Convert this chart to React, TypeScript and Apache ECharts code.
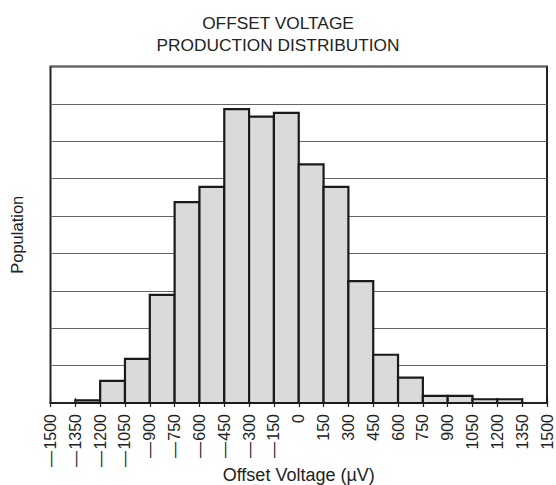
import React, { useEffect, useRef } from "react";
import * as echarts from "echarts";

const binStarts = [-1350, -1200, -1050, -900, -750, -600, -450, -300, -150, 0, 150, 300, 450, 600, 750, 900, 1050, 1200];
const binWidth = 150;
const populations = [0.07, 0.59, 1.18, 2.89, 5.37, 5.78, 7.86, 7.66, 7.76, 6.38, 5.78, 3.26, 1.29, 0.68, 0.19, 0.19, 0.1, 0.1];
const xTicks = [-1500, -1350, -1200, -1050, -900, -750, -600, -450, -300, -150, 0, 150, 300, 450, 600, 750, 900, 1050, 1200, 1350, 1500];
const titleLines = ["OFFSET VOLTAGE", "PRODUCTION DISTRIBUTION"];

const FONT = "'Liberation Sans', Arial, Helvetica, sans-serif";

function fmt(v: number): string {
  if (v < 0) return "\u2014\u200A" + Math.abs(v);
  return String(v);
}

export default function App() {
  const ref = useRef<HTMLDivElement>(null);
  useEffect(() => {
    if (!ref.current) return;
    const chart = echarts.init(ref.current, null, { renderer: "svg" });
    const data = binStarts.map((s, i) => [s, s + binWidth, populations[i]]);
    chart.setOption({
      animation: false,
      backgroundColor: "#ffffff",
      title: {
        text: titleLines.join("\n"),
        left: "center",
        top: 7,
        textStyle: { fontFamily: FONT, fontSize: 17.3, fontWeight: "normal", color: "#222", lineHeight: 22 },
      },
      grid: {
        left: 50.5,
        right: 9,
        top: 66.5,
        bottom: 82,
        outerBoundsMode: "none",
        containLabel: false,
        show: true,
        borderColor: "#222",
        borderWidth: 2,
        backgroundColor: "transparent",
      },
      xAxis: [
        {
          type: "value",
          min: -1500,
          max: 1500,
          interval: 150,
          name: "Offset Voltage (\u00b5V)",
          nameLocation: "middle",
          nameGap: 63,
          nameMoveOverlap: false,
          nameTextStyle: { fontFamily: FONT, fontSize: 18, color: "#222" },
          axisLine: { show: true, lineStyle: { color: "#222", width: 2 } },
          axisTick: { show: true, inside: false, length: 4, lineStyle: { color: "#222", width: 1.2 } },
          axisLabel: {
            rotate: 90,
            margin: 11,
            fontFamily: FONT,
            fontSize: 16,
            color: "#222",
            customValues: xTicks,
            formatter: (v: number) => fmt(v),
          },
          splitLine: { show: false },
        },
        {
          type: "value",
          min: -1500,
          max: 1500,
          interval: 150,
          position: "bottom",
          axisLine: { show: false },
          axisTick: { show: true, inside: true, length: 5, lineStyle: { color: "#222", width: 1.2 } },
          axisLabel: { show: false },
          splitLine: { show: false },
        },
      ],
      yAxis: {
        type: "value",
        min: 0,
        max: 9,
        interval: 1,
        name: "Population",
        nameLocation: "middle",
        nameGap: 25,
        nameTextStyle: { fontFamily: FONT, fontSize: 16.5, color: "#222" },
        axisLine: { show: false },
        axisTick: { show: false },
        axisLabel: { show: false },
        splitLine: { show: true, lineStyle: { color: "#666", width: 1.2 } },
      },
      series: [
        {
          type: "custom",
          xAxisIndex: 0,
          data,
          encode: { x: [0, 1], y: 2 },
          renderItem: (params: any, api: any) => {
            const p0 = api.coord([api.value(0), 0]);
            const p1 = api.coord([api.value(1), api.value(2)]);
            return {
              type: "rect",
              shape: { x: p0[0], y: p1[1], width: p1[0] - p0[0], height: p0[1] - p1[1] },
              style: { fill: "#d9dadc", stroke: "#1a1a1a", lineWidth: 2.2 },
            };
          },
          z: 3,
        },
      ],
    });
    return () => chart.dispose();
  }, []);
  return (
    <div
      ref={ref}
      style={{ position: "fixed", left: 0, top: 0, width: 556, height: 485, background: "#fff" }}
    />
  );
}
